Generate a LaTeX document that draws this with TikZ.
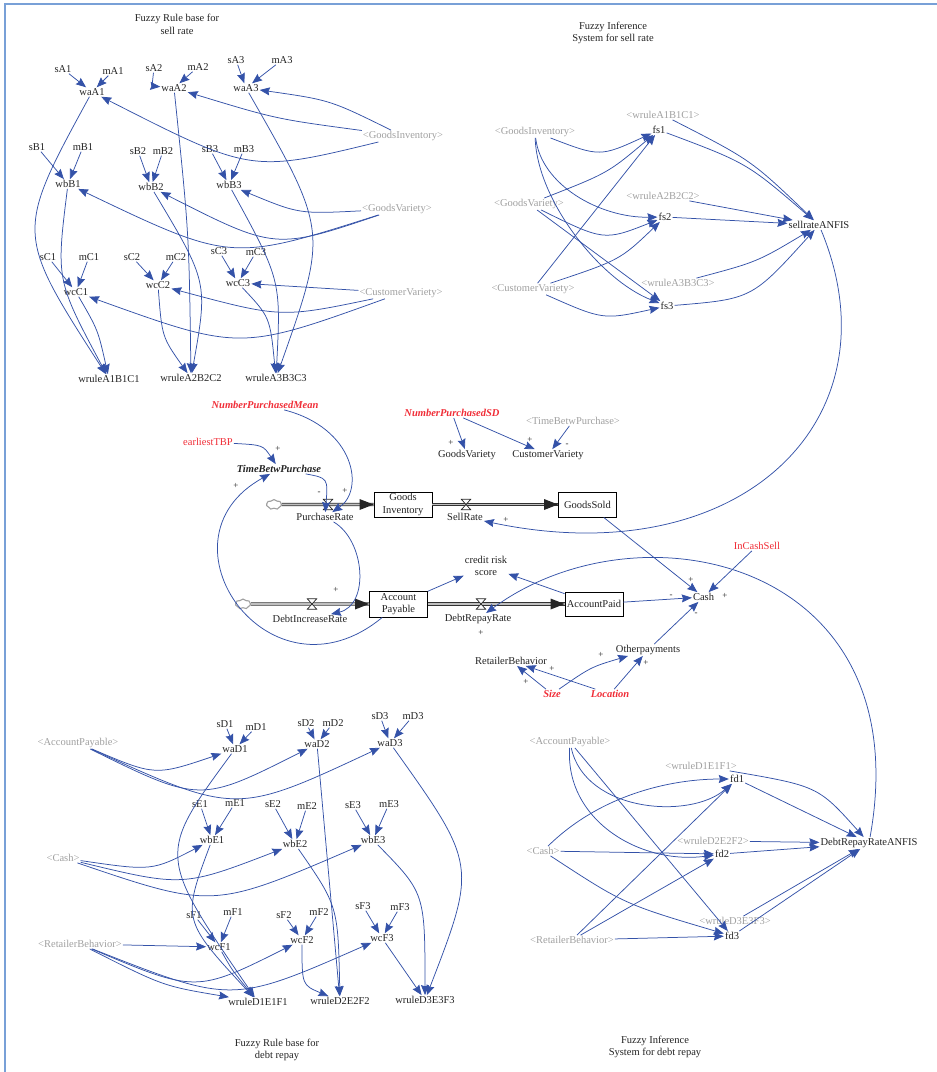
\documentclass[tikz,border=0pt]{standalone}
\usepackage{fontspec}
\setmainfont{Liberation Serif}
\usetikzlibrary{arrows.meta,shapes.symbols}
\definecolor{lk}{RGB}{52,82,168}
\definecolor{sh}{RGB}{160,160,160}
\definecolor{rd}{RGB}{240,45,55}
\definecolor{tx}{RGB}{35,35,35}
\definecolor{fr}{RGB}{120,160,215}
\begin{document}
\begin{tikzpicture}[x=1pt,y=-1pt,
  every node/.style={inner sep=1pt, font=\fontsize{10.5}{12.5}\selectfont, text=tx},
  shadowvar/.style={text=sh},
  redvar/.style={text=rd},
  keyvar/.style={text=rd, font=\fontsize{10.5}{12.5}\selectfont\bfseries\itshape},
  stockbox/.style={draw=black, line width=0.9pt, minimum width=58pt, minimum height=25pt, align=center, inner sep=0pt},
  valvebox/.style={minimum width=9pt, minimum height=10pt, inner sep=0pt},
  cloudnode/.style={cloud, cloud puffs=7, cloud puff arc=110, draw=sh, fill=white, line width=1.1pt, minimum width=15pt, minimum height=10pt, inner sep=0pt},
  link/.style={draw=lk, line width=0.75pt, -{Stealth[length=10pt,width=8pt,inset=1.2pt]}},
  pipe/.style={draw=black!80, line width=0.7pt, double=black!25, double distance=1.8pt},
  sign/.style={font=\fontsize{9}{9}\selectfont, inner sep=0pt},
  ]
\useasboundingbox (0,0) rectangle (937,1072);
\draw[fr, line width=1.2pt] (5,1072) -- (5,4) -- (937,4);

% ---------- rule base for sell rate ----------
\node[align=center] (t1) at (177,24.5) {Fuzzy Rule base for\\sell rate};
\node (sA1) at (63,69) {sA1};   \node (mA1) at (113,71) {mA1};  \node (waA1) at (92,92) {waA1};
\node (sA2) at (154,68) {sA2};  \node (mA2) at (198,67) {mA2};  \node (waA2) at (174,88) {waA2};
\node (sA3) at (236,60) {sA3};  \node (mA3) at (282,60) {mA3};  \node (waA3) at (246,88) {waA3};
\node[shadowvar] (GI1) at (403,136) {<GoodsInventory>};
\node (sB1) at (37,147) {sB1};  \node (mB1) at (83,147) {mB1};  \node (wbB1) at (68,184) {wbB1};
\node (sB2) at (138,151) {sB2}; \node (mB2) at (163,151) {mB2}; \node (wbB2) at (151,187) {wbB2};
\node (sB3) at (210,149) {sB3}; \node (mB3) at (244,149) {mB3}; \node (wbB3) at (229,185) {wbB3};
\node[shadowvar] (GV1) at (397,209) {<GoodsVariety>};
\node (sC1) at (48,257) {sC1};  \node (mC1) at (89,257) {mC1};  \node (wcC1) at (76,292) {wcC1};
\node (sC2) at (132,257) {sC2}; \node (mC2) at (176,257) {mC2}; \node (wcC2) at (158,285) {wcC2};
\node (sC3) at (219,251) {sC3}; \node (mC3) at (256,252) {mC3}; \node (wcC3) at (238,283) {wcC3};
\node[shadowvar] (CV1) at (401,293) {<CustomerVariety>};
\node (wrA1) at (109,379) {wruleA1B1C1};
\node (wrA2) at (191,378) {wruleA2B2C2};
\node (wrA3) at (276,378) {wruleA3B3C3};

\draw[link] (sA1) -- (waA1);
\draw[link] (mA1) -- (waA1);
\draw[link] (sA2) .. controls (152,86) .. (waA2);
\draw[link] (mA2) -- (waA2);
\draw[link] (sA3) -- (waA3);
\draw[link] (mA3) -- (waA3);
\draw[link] (sB1) -- (wbB1);
\draw[link] (mB1) -- (wbB1);
\draw[link] (sB2) -- (wbB2);
\draw[link] (mB2) -- (wbB2);
\draw[link] (sB3) -- (wbB3);
\draw[link] (mB3) -- (wbB3);
\draw[link] (sC1) -- (wcC1);
\draw[link] (mC1) -- (wcC1);
\draw[link] (sC2) -- (wcC2);
\draw[link] (mC2) -- (wcC2);
\draw[link] (sC3) -- (wcC3);
\draw[link] (mC3) -- (wcC3);
\draw[link] (GI1) .. controls (330,100) .. (waA3);
\draw[link] (GI1) .. controls (276,119) .. (waA2);
\draw[link] (GI1) .. controls (251,173) .. (waA1);
\draw[link] (waA1) .. controls (15,233) .. (wrA1);
\draw[link] (waA2) .. controls (189,233) .. (wrA2);
\draw[link] (waA3) .. controls (328,231) .. (wrA3);
\draw[link] (GV1) .. controls (299,214) .. (wbB3);
\draw[link] (GV1) .. controls (275,250) .. (wbB2);
\draw[link] (GV1) .. controls (231,262) .. (wbB1);
\draw[link] (wbB1) .. controls (56,280) .. (wrA1);
\draw[link] (wbB2) .. controls (208,282) .. (wrA2);
\draw[link] (wbB3) .. controls (281,280) .. (wrA3);
\draw[link] (CV1) -- (wcC3);
\draw[link] (CV1) .. controls (281,318) .. (wcC2);
\draw[link] (CV1) .. controls (240,351) .. (wcC1);
\draw[link] (wcC1) .. controls (98,330) .. (wrA1);
\draw[link] (wcC2) .. controls (162,337) .. (wrA2);
\draw[link] (wcC3) .. controls (270,317) .. (wrA3);

% ---------- inference system for sell rate ----------
\node[align=center] (t2) at (613,33) {Fuzzy Inference\\System for sell rate};
\node[shadowvar] (GI2) at (535,132) {<GoodsInventory>};
\node[shadowvar] (GV2) at (529,204) {<GoodsVariety>};
\node[shadowvar] (CV2) at (533,289) {<CustomerVariety>};
\node[shadowvar] (wrA1s) at (663,115) {<wruleA1B1C1>};
\node[shadowvar] (wrA2s) at (663,196) {<wruleA2B2C2>};
\node[shadowvar] (wrA3s) at (678,283) {<wruleA3B3C3>};
\node (fs1) at (659,130) {fs1};
\node (fs2) at (665,217) {fs2};
\node (fs3) at (667,306) {fs3};
\node (srA) at (819,225) {sellrateANFIS};

\draw[link] (GI2) .. controls (600,157) .. (fs1);
\draw[link] (GI2) .. controls (541,185) and (600,218) .. (fs2);
\draw[link] (GI2) .. controls (537,200) and (600,280) .. (fs3);
\draw[link] (GV2) .. controls (608,173) .. (fs1);
\draw[link] (GV2) .. controls (604,241) .. (fs2);
\draw[link] (GV2) -- (fs3);
\draw[link] (CV2) -- (fs1);
\draw[link] (CV2) .. controls (620,260) .. (fs2);
\draw[link] (CV2) .. controls (603,320) .. (fs3);
\draw[link] (fs1) .. controls (747,163) .. (srA);
\draw[link] (wrA1s) .. controls (751,160) .. (srA);
\draw[link] (wrA2s) -- (srA);
\draw[link] (fs2) -- (srA);
\draw[link] (wrA3s) .. controls (757,262) .. (srA);
\draw[link] (fs3) .. controls (752,299) .. (srA);

% ---------- stock and flow core ----------
\node[keyvar] (NPM) at (265,405) {NumberPurchasedMean};
\node[keyvar] (NPSD) at (452,413) {NumberPurchasedSD};
\node[shadowvar] (TBPs) at (573,421) {<TimeBetwPurchase>};
\node[redvar] (eTBP) at (208,442) {earliestTBP};
\node[font=\fontsize{10.5}{12.5}\selectfont\bfseries\itshape] (TBP) at (279,469) {TimeBetwPurchase};
\node (GVm) at (467,455) {GoodsVariety};
\node (CVm) at (548,455) {CustomerVariety};

\node[stockbox] (GInv) at (403,504.5) {Goods\\Inventory};
\node[stockbox] (GSold) at (587.5,504.5) {GoodsSold};
\node[stockbox, minimum height=26pt] (APay) at (398.5,604) {Account\\Payable};
\node[stockbox, minimum height=24pt] (APaid) at (594,604) {AccountPaid};
\node[cloudnode] (cl1) at (274,504.5) {};
\node[cloudnode] (cl2) at (243,604) {};

\draw[pipe] (cl1) -- (GInv);
\draw[pipe] (GInv) -- (GSold);
\draw[pipe] (cl2) -- (APay);
\draw[pipe] (APay) -- (APaid);
\fill[black!85] (GInv.west) -- ++(-14,-5.5) -- ++(0,11) -- cycle;
\fill[black!85] (GSold.west) -- ++(-14,-5.5) -- ++(0,11) -- cycle;
\fill[black!85] (APay.west) -- ++(-14,-5.5) -- ++(0,11) -- cycle;
\fill[black!85] (APaid.west) -- ++(-14,-5.5) -- ++(0,11) -- cycle;

\node[valvebox] (vPR) at (328,504.5) {};
\node[valvebox] (vSR) at (466,504.5) {};
\node[valvebox] (vDIR) at (312,604) {};
\node[valvebox] (vDRR) at (481,604) {};
\foreach \v in {vPR,vSR,vDIR,vDRR}
  \draw[draw=black!85, fill=white, line width=0.7pt] (\v.north west) -- (\v.north east) -- (\v.south west) -- (\v.south east) -- cycle;
\node (lPR) at (325,517) {PurchaseRate};
\node (lSR) at (465,517) {SellRate};
\node (lDIR) at (310,619) {DebtIncreaseRate};
\node (lDRR) at (478,619) {DebtRepayRate};

\node[align=center] (crs) at (486,566) {credit risk\\score};
\node (Cash) at (703.5,597) {Cash};
\node[redvar] (ICS) at (757,546) {InCashSell};
\node (OP) at (648,650) {Otherpayments};
\node (RB) at (511,661) {RetailerBehavior};
\node[keyvar] (Size) at (552,694) {Size};
\node[keyvar] (Loc) at (610,694) {Location};

\draw[link] (srA) .. controls (900,420) and (740,575) .. (lSR);
\draw[link] (NPM) .. controls (355,428) and (365,490) .. (lPR);
\draw[link] (eTBP) .. controls (263,445) .. (TBP);
\draw[link] (TBP) .. controls (328,478) .. (lPR);
\draw[link] (APay) .. controls (270,710) and (150,540) .. (TBP);
\draw[link] (lPR) .. controls (365,540) and (370,605) .. (lDIR);
\draw[link] (NPSD) -- (GVm);
\draw[link] (NPSD) -- (CVm);
\draw[link] (TBPs) -- (CVm);
\draw[link] (APay) -- (crs);
\draw[link] (APaid) -- (crs);
\draw[link] (GSold) -- (Cash);
\draw[link] (ICS) -- (Cash);
\draw[link] (APaid) -- (Cash);
\draw[link] (OP) -- (Cash);
\draw[link] (Size) .. controls (591,667) .. (OP);
\draw[link] (Loc) -- (OP);
\draw[link] (Size) -- (RB);
\draw[link] (Loc) -- (RB);

\node[sign] (p1) at (278,449) {+};
\node[sign] (p2) at (345,491) {+};
\node[sign] (p3) at (319,493) {-};
\node[sign] (p4) at (236,486) {+};
\node[sign] (p5) at (336,590) {+};
\node[sign] (p6) at (451,443) {+};
\node[sign] (p7) at (530,440) {+};
\node[sign] (p8) at (567,445) {-};
\node[sign] (p9) at (506,520) {+};
\node[sign] (p10) at (481,633) {+};
\node[sign] (p11) at (691,580) {+};
\node[sign] (p12) at (725,596) {+};
\node[sign] (p13) at (671,596) {-};
\node[sign] (p14) at (696,614) {-};
\node[sign] (p15) at (601,655) {+};
\node[sign] (p16) at (646,663) {+};
\node[sign] (p17) at (526,682) {+};
\node[sign] (p18) at (552,669) {+};

% ---------- rule base for debt repay ----------
\node[align=center] (t3) at (277,1050) {Fuzzy Rule base for\\debt repay};
\node (sD1) at (225,724) {sD1}; \node (mD1) at (256,727) {mD1}; \node (waD1) at (235,749) {waD1};
\node (sD2) at (306,723) {sD2}; \node (mD2) at (333,723) {mD2}; \node (waD2) at (317,744) {waD2};
\node (sD3) at (380,716) {sD3}; \node (mD3) at (413,716) {mD3}; \node (waD3) at (390,743) {waD3};
\node[shadowvar] (APa) at (78,743) {<AccountPayable>};
\node (sE1) at (200,804) {sE1}; \node (mE1) at (235,803) {mE1}; \node (wbE1) at (212,840) {wbE1};
\node (sE2) at (273,804) {sE2}; \node (mE2) at (307,806) {mE2}; \node (wbE2) at (295,844) {wbE2};
\node (sE3) at (353,805) {sE3}; \node (mE3) at (389,804) {mE3}; \node (wbE3) at (373,840) {wbE3};
\node[shadowvar] (Casha) at (63,858) {<Cash>};
\node (sF1) at (194,915) {sF1}; \node (mF1) at (233,912) {mF1}; \node (wcF1) at (219,947) {wcF1};
\node (sF2) at (284,915) {sF2}; \node (mF2) at (319,912) {mF2}; \node (wcF2) at (302,940) {wcF2};
\node (sF3) at (363,906) {sF3}; \node (mF3) at (400,907) {mF3}; \node (wcF3) at (382,938) {wcF3};
\node[shadowvar] (RBa) at (80,944) {<RetailerBehavior>};
\node (wrD1) at (258,1002) {wruleD1E1F1};
\node (wrD2) at (340,1001) {wruleD2E2F2};
\node (wrD3) at (425,1000) {wruleD3E3F3};

\draw[link] (sD1) -- (waD1);
\draw[link] (mD1) -- (waD1);
\draw[link] (sD2) -- (waD2);
\draw[link] (mD2) -- (waD2);
\draw[link] (sD3) -- (waD3);
\draw[link] (mD3) -- (waD3);
\draw[link] (sE1) -- (wbE1);
\draw[link] (mE1) -- (wbE1);
\draw[link] (sE2) -- (wbE2);
\draw[link] (mE2) -- (wbE2);
\draw[link] (sE3) -- (wbE3);
\draw[link] (mE3) -- (wbE3);
\draw[link] (sF1) -- (wcF1);
\draw[link] (mF1) -- (wcF1);
\draw[link] (sF2) -- (wcF2);
\draw[link] (mF2) -- (wcF2);
\draw[link] (sF3) -- (wcF3);
\draw[link] (mF3) -- (wcF3);
\draw[link] (APa) .. controls (155,776) .. (waD1);
\draw[link] (APa) .. controls (200,803) .. (waD2);
\draw[link] (APa) .. controls (236,815) .. (waD3);
\draw[link] (waD1) .. controls (157,855) .. (wrD1);
\draw[link] (waD2) -- (wrD2);
\draw[link] (waD3) .. controls (477,865) .. (wrD3);
\draw[link] (Casha) .. controls (152,871) .. (wbE1);
\draw[link] (Casha) .. controls (183,887) .. (wbE2);
\draw[link] (Casha) .. controls (213,909) .. (wbE3);
\draw[link] (wbE1) .. controls (182,920) .. (wrD1);
\draw[link] (wbE2) .. controls (338,906) .. (wrD2);
\draw[link] (wbE3) .. controls (425,893) .. (wrD3);
\draw[link] (RBa) -- (wcF1);
\draw[link] (RBa) .. controls (196,993) .. (wcF2);
\draw[link] (RBa) .. controls (232,1004) .. (wcF3);
\draw[link] (RBa) .. controls (163,986) .. (wrD1);
\draw[link] (wcF1) .. controls (232,970) .. (wrD1);
\draw[link] (wcF2) .. controls (302,985) .. (wrD2);
\draw[link] (wcF3) -- (wrD3);

% ---------- inference system for debt repay ----------
\node[align=center] (t4) at (655,1047) {Fuzzy Inference\\System for debt repay};
\node[shadowvar] (APb) at (570,742) {<AccountPayable>};
\node[shadowvar] (Cashb) at (543,851) {<Cash>};
\node[shadowvar] (RBb) at (572,940) {<RetailerBehavior>};
\node[shadowvar] (wrD1s) at (701,766) {<wruleD1E1F1>};
\node[shadowvar] (wrD2s) at (713,841) {<wruleD2E2F2>};
\node[shadowvar] (wrD3s) at (735,921) {<wruleD3E3F3>};
\node (fd1) at (737,779) {fd1};
\node (fd2) at (722,854) {fd2};
\node (fd3) at (732,936) {fd3};
\node (DRRA) at (869,843) {DebtRepayRateANFIS};

\draw[link] (APb) .. controls (585,812) and (690,820) .. (fd1);
\draw[link] (APb) .. controls (565,820) and (640,865) .. (fd2);
\draw[link] (APb) -- (fd3);
\draw[link] (Cashb) .. controls (600,795) and (670,779) .. (fd1);
\draw[link] (Cashb) -- (fd2);
\draw[link] (Cashb) .. controls (624,904) .. (fd3);
\draw[link] (RBb) -- (fd1);
\draw[link] (RBb) -- (fd2);
\draw[link] (RBb) -- (fd3);
\draw[link] (fd1) -- (DRRA);
\draw[link] (wrD1s) .. controls (818,786) .. (DRRA);
\draw[link] (wrD2s) -- (DRRA);
\draw[link] (fd2) -- (DRRA);
\draw[link] (wrD3s) -- (DRRA);
\draw[link] (fd3) -- (DRRA);
\draw[link] (DRRA) .. controls (920,560) and (640,500) .. (lDRR);
\end{tikzpicture}
\end{document}
